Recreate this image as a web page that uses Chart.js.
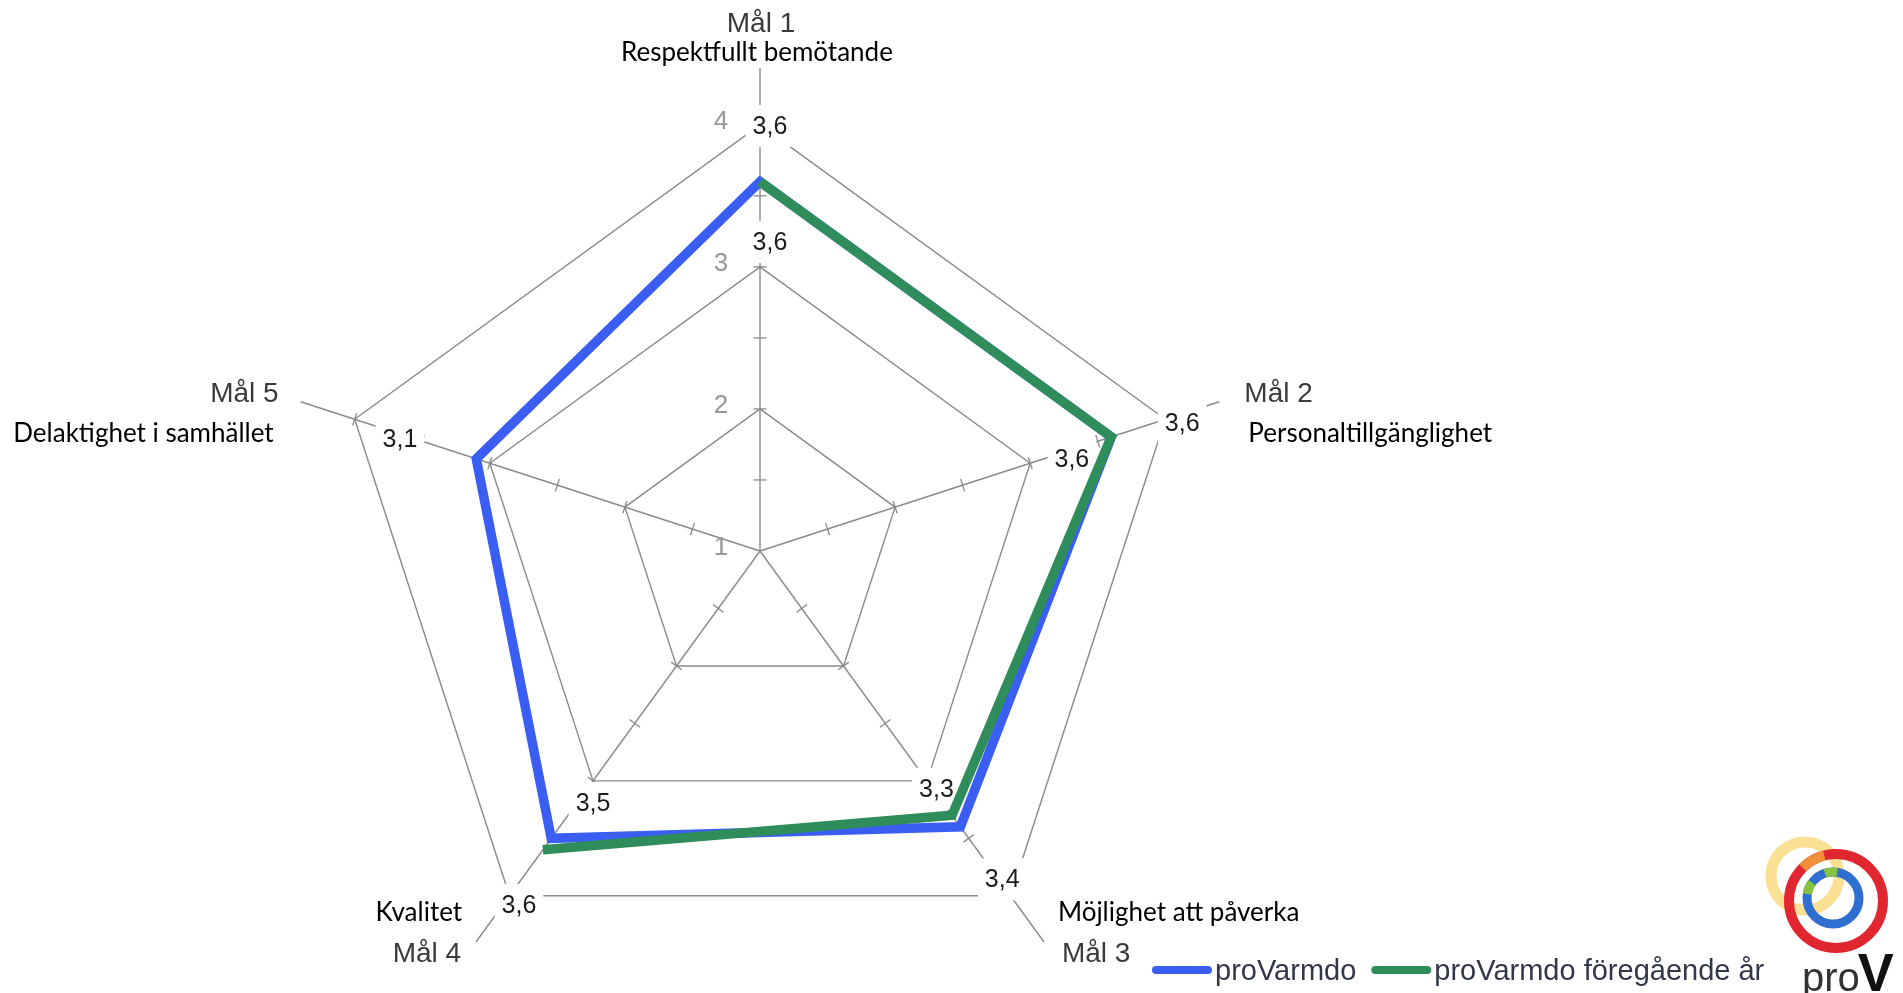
<!DOCTYPE html>
<html lang="sv">
<head>
<meta charset="utf-8">
<title>proVarmdo – måluppfyllelse</title>
<script src="https://cdn.jsdelivr.net/npm/chart.js@4.4.1/dist/chart.umd.min.js"></script>
<style>
  html, body { margin: 0; padding: 0; background: #ffffff; overflow: hidden; }
  #wrap { position: relative; width: 1903px; height: 993px; overflow: hidden; }
  #chart { position: absolute; left: 0; top: 0; }
</style>
</head>
<body>
<div id="wrap"><canvas id="chart" width="1903" height="1102"></canvas></div>
<script>
// ---- data ----
const GOALS = ['Mål 1', 'Mål 2', 'Mål 3', 'Mål 4', 'Mål 5'];
const GOAL_NAMES = ['Respektfullt bemötande', 'Personaltillgänglighet', 'Möjlighet att påverka', 'Kvalitet', 'Delaktighet i samhället'];
const SERIES_NAMES = ['proVarmdo', 'proVarmdo föregående år'];
const CURRENT = [3.6, 3.6, 3.4, 3.5, 3.1];
const PREVIOUS = [3.6, 3.6, 3.3, 3.6, null];
const SCALE_TICKS = [1, 2, 3, 4];
const MINOR_TICKS = [1.5, 2, 2.5, 3, 3.5, 4];

// ---- styles ----
const BLUE = '#3a5ef2';
const GREEN = '#2e8d5b';
const GRID = '#8a8a8a';
const SANS = '"Liberation Sans", Arial, sans-serif';
const HUMANIST = 'Lato, "Open Sans", sans-serif';

const fmt = v => v.toFixed(1).replace('.', ',');

// direction along a spoke and its clockwise normal
function spokeDir(scale, i) {
  const p = scale.getPointPosition(i, 1);
  const ux = p.x - scale.xCenter, uy = p.y - scale.yCenter;
  return { ux, uy, nx: -uy, ny: ux };
}

// where the value labels sit along each spoke (px from centre, px sideways)
const VALUE_LABEL_SLOTS = [
  { inner: 309, outer: 425, side: 10 },
  { inner: 325, outer: 441, side: 9 },
  { inner: 296, outer: 408, side: -3 },
  { inner: 302, outer: 428, side: -13 },
  { inner: 300, outer: 377, side: -5 }
];

// goal captions, offsets from the end of each spoke
const GOAL_LABEL_LAYOUT = [
  { align: 'center', goal: [1, -44],  name: [-3, -15] },
  { align: 'left',   goal: [25, -7],  name: [29, 32] },
  { align: 'left',   goal: [18, 13],  name: [14, -29] },
  { align: 'right',  goal: [-15, 13], name: [-14, -29] },
  { align: 'right',  goal: [-22, -7], name: [-27, 32] }
];

const radarDecor = {
  id: 'radarDecor',
  beforeDatasetsDraw(chart) {
    const ctx = chart.ctx;
    const s = chart.scales.r;
    const n = chart.data.labels.length;

    // small cross ticks on every spoke
    ctx.save();
    ctx.strokeStyle = GRID;
    ctx.lineWidth = 1.3;
    for (let i = 0; i < n; i++) {
      const d = spokeDir(s, i);
      MINOR_TICKS.forEach(v => {
        const r = s.getDistanceFromCenterForValue(v);
        const x = s.xCenter + d.ux * r, y = s.yCenter + d.uy * r;
        ctx.beginPath();
        ctx.moveTo(x - d.nx * 6.5, y - d.ny * 6.5);
        ctx.lineTo(x + d.nx * 6.5, y + d.ny * 6.5);
        ctx.stroke();
      });
    }
    ctx.restore();

    // scale numbers beside the top spoke
    ctx.save();
    ctx.font = '26px ' + SANS;
    ctx.fillStyle = '#979797';
    ctx.textAlign = 'center';
    ctx.textBaseline = 'middle';
    SCALE_TICKS.forEach(v => {
      const r = s.getDistanceFromCenterForValue(v);
      ctx.fillText(String(v), s.xCenter - 39, s.yCenter - r - 3);
    });
    ctx.restore();

    // value labels with white boxes
    ctx.save();
    ctx.font = '25px ' + SANS;
    ctx.textAlign = 'center';
    ctx.textBaseline = 'middle';
    for (let i = 0; i < n; i++) {
      const entries = chart.data.datasets
        .map(ds => ds.data[i])
        .filter(v => v !== null && v !== undefined);
      const sorted = entries.slice().sort((a, b) => a - b);
      const slot = VALUE_LABEL_SLOTS[i];
      const d = spokeDir(s, i);
      const radii = sorted.length === 1 ? [slot.outer] : [slot.inner, slot.outer];
      sorted.forEach((v, k) => {
        const r = radii[k];
        const cx = s.xCenter + d.ux * r + d.nx * slot.side;
        const cy = s.yCenter + d.uy * r + d.ny * slot.side;
        const txt = fmt(v);
        const w = ctx.measureText(txt).width;
        ctx.fillStyle = '#ffffff';
        ctx.fillRect(cx - w / 2 - 7, cy - 21, w + 14, 42);
        ctx.fillStyle = '#1c1c1c';
        ctx.fillText(txt, cx, cy + 1);
      });
    }
    ctx.restore();
  },
  afterDraw(chart) {
    const ctx = chart.ctx;
    const s = chart.scales.r;
    const n = chart.data.labels.length;

    // goal captions
    for (let i = 0; i < n; i++) {
      const end = s.getPointPosition(i, s.drawingArea);
      const L = GOAL_LABEL_LAYOUT[i];
      ctx.save();
      ctx.textAlign = L.align;
      ctx.textBaseline = 'middle';
      ctx.font = '28px ' + SANS;
      ctx.fillStyle = '#3a3a3a';
      ctx.fillText(chart.data.labels[i], end.x + L.goal[0], end.y + L.goal[1]);
      ctx.font = '26px ' + HUMANIST;
      ctx.fillStyle = '#000000';
      ctx.fillText(GOAL_NAMES[i], end.x + L.name[0], end.y + L.name[1]);
      ctx.restore();
    }

    // legend
    ctx.save();
    ctx.font = '29px ' + SANS;
    ctx.textBaseline = 'middle';
    ctx.textAlign = 'left';
    let x = 1153;
    const ly = 970;
    chart.data.datasets.forEach(ds => {
      ctx.strokeStyle = ds.borderColor;
      ctx.lineWidth = 8;
      ctx.lineCap = 'round';
      ctx.beginPath();
      ctx.moveTo(x + 3, ly);
      ctx.lineTo(x + 55, ly);
      ctx.stroke();
      ctx.fillStyle = '#323849';
      ctx.fillText(ds.label, x + 62, ly + 2);
      x += 62 + ctx.measureText(ds.label).width + 16;
    });
    ctx.restore();

    // logo
    ctx.save();
    ctx.lineWidth = 11;
    ctx.strokeStyle = 'rgba(248, 214, 110, 0.75)';
    ctx.beginPath(); ctx.arc(1805, 876, 34, 0, Math.PI * 2); ctx.stroke();
    ctx.lineWidth = 10;
    ctx.strokeStyle = '#e0262e';
    ctx.beginPath(); ctx.arc(1836, 901, 47, 0, Math.PI * 2); ctx.stroke();
    ctx.strokeStyle = 'rgba(245, 170, 60, 0.8)';
    ctx.beginPath(); ctx.arc(1836, 901, 47, Math.PI * 1.25, Math.PI * 1.42); ctx.stroke();
    ctx.lineWidth = 9;
    ctx.strokeStyle = '#2f6fcf';
    ctx.beginPath(); ctx.arc(1833, 898, 26, 0, Math.PI * 2); ctx.stroke();
    ctx.strokeStyle = '#86c440';
    ctx.beginPath(); ctx.arc(1833, 898, 26, Math.PI * 1.05, Math.PI * 1.2); ctx.stroke();
    ctx.beginPath(); ctx.arc(1833, 898, 26, Math.PI * 1.4, Math.PI * 1.55); ctx.stroke();
    ctx.textBaseline = 'alphabetic';
    ctx.textAlign = 'left';
    ctx.font = '40px ' + SANS;
    ctx.fillStyle = '#333333';
    ctx.fillText('pro', 1802, 991);
    const pw = ctx.measureText('pro').width;
    ctx.font = 'bold 54px ' + SANS;
    ctx.fillStyle = '#111111';
    ctx.fillText('V', 1800 + pw, 991);
    ctx.restore();
  }
};

new Chart(document.getElementById('chart'), {
  type: 'radar',
  data: {
    labels: GOALS,
    datasets: [
      { label: SERIES_NAMES[0], data: CURRENT, borderColor: BLUE, backgroundColor: 'transparent',
        borderWidth: 9.5, fill: false, order: 1, pointRadius: 0, spanGaps: false },
      { label: SERIES_NAMES[1], data: PREVIOUS, borderColor: GREEN, backgroundColor: 'transparent',
        borderWidth: 9.5, fill: false, order: 0, pointRadius: 0, spanGaps: false }
    ]
  },
  options: {
    responsive: false,
    animation: false,
    devicePixelRatio: 1,
    layout: { padding: { left: 277, right: 660, top: 68, bottom: 68 } },
    elements: { line: { tension: 0, borderJoinStyle: 'miter' }, point: { radius: 0, hoverRadius: 0 } },
    plugins: { legend: { display: false }, tooltip: { enabled: false } },
    scales: {
      r: {
        min: 1,
        max: 4.4,
        startAngle: 0,
        afterBuildTicks: scale => { scale.ticks = SCALE_TICKS.map(v => ({ value: v })); },
        ticks: { display: false },
        grid: { color: GRID, lineWidth: 1.4 },
        angleLines: { color: GRID, lineWidth: 1.4 },
        pointLabels: { display: false }
      }
    }
  },
  plugins: [radarDecor]
});
</script>
</body>
</html>
